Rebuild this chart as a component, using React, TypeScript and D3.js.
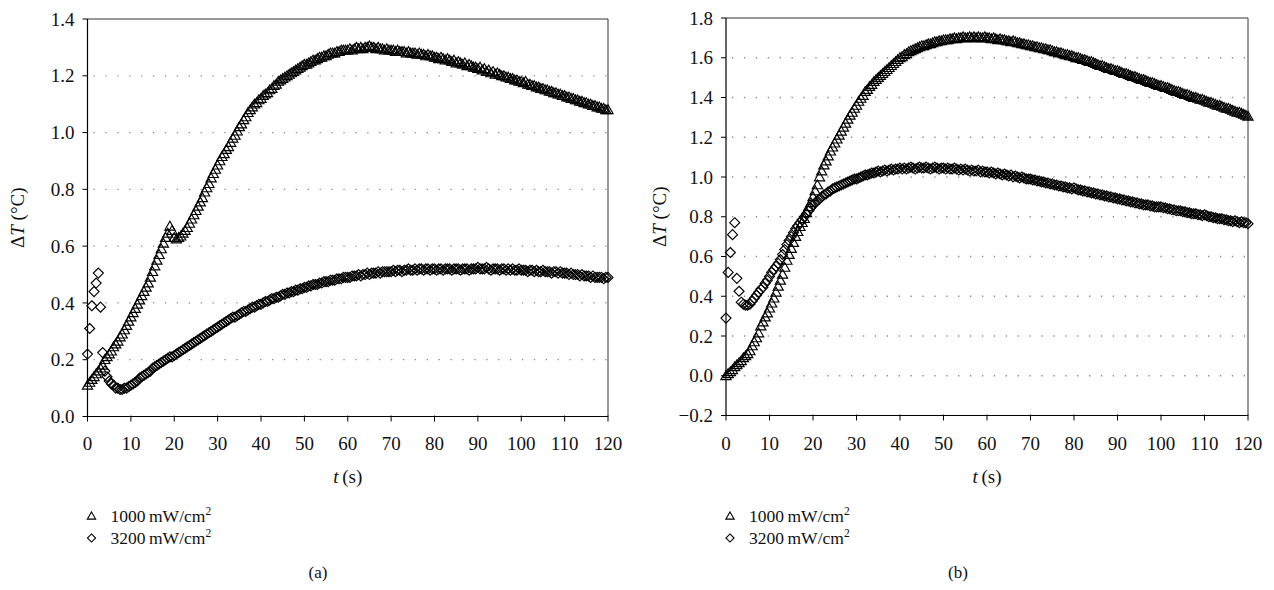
import { useEffect, useRef } from 'react';
import * as d3 from 'd3';

// sampling interval of the logger, seconds
const SAMPLE_STEP = 0.5;

const xTicks = [0, 10, 20, 30, 40, 50, 60, 70, 80, 90, 100, 110, 120];
const yTicksA = [0, 0.2, 0.4, 0.6, 0.8, 1.0, 1.2, 1.4];
const yTicksB = [-0.2, 0, 0.2, 0.4, 0.6, 0.8, 1.0, 1.2, 1.4, 1.6, 1.8];
const seriesNames = ['1000\u2009mW/cm', '3200\u2009mW/cm'];
const panelNames = ['(a)', '(b)'];

// panel (a), 1000 mW/cm2 — one row = 10 s
const a1000 = [
  0.11, 0.12, 0.13, 0.14, 0.15, 0.16, 0.17, 0.18, 0.20, 0.21, 0.22, 0.23, 0.245, 0.255, 0.265, 0.28, 0.29, 0.305, 0.32, 0.335,
  0.35, 0.365, 0.38, 0.395, 0.41, 0.425, 0.44, 0.455, 0.47, 0.49, 0.51, 0.53, 0.55, 0.57, 0.59, 0.61, 0.63, 0.645, 0.67, 0.655,
  0.63, 0.625, 0.63, 0.635, 0.645, 0.655, 0.665, 0.68, 0.695, 0.71, 0.725, 0.74, 0.755, 0.77, 0.79, 0.805, 0.82, 0.84, 0.855, 0.87,
  0.885, 0.9, 0.915, 0.925, 0.94, 0.95, 0.965, 0.98, 0.99, 1.005, 1.02, 1.03, 1.045, 1.055, 1.07, 1.08, 1.09, 1.10, 1.105, 1.115,
  1.12, 1.13, 1.135, 1.14, 1.15, 1.155, 1.165, 1.17, 1.18, 1.185, 1.19, 1.195, 1.20, 1.205, 1.21, 1.215, 1.22, 1.225, 1.23, 1.235,
  1.24, 1.24, 1.245, 1.25, 1.255, 1.255, 1.26, 1.265, 1.265, 1.27, 1.27, 1.275, 1.28, 1.28, 1.28, 1.285, 1.285, 1.29, 1.29, 1.29,
  1.29, 1.295, 1.29, 1.295, 1.30, 1.295, 1.30, 1.295, 1.30, 1.30, 1.305, 1.30, 1.30, 1.295, 1.30, 1.295, 1.295, 1.29, 1.295, 1.29,
  1.29, 1.29, 1.285, 1.29, 1.285, 1.285, 1.285, 1.28, 1.285, 1.28, 1.28, 1.28, 1.275, 1.28, 1.275, 1.275, 1.27, 1.275, 1.27, 1.27,
  1.265, 1.265, 1.26, 1.265, 1.26, 1.255, 1.26, 1.255, 1.25, 1.255, 1.245, 1.25, 1.245, 1.24, 1.245, 1.235, 1.24, 1.235, 1.23, 1.23,
  1.225, 1.23, 1.22, 1.225, 1.215, 1.22, 1.21, 1.215, 1.205, 1.21, 1.205, 1.20, 1.20, 1.195, 1.195, 1.19, 1.19, 1.185, 1.185, 1.18,
  1.18, 1.175, 1.18, 1.17, 1.17, 1.165, 1.165, 1.16, 1.16, 1.155, 1.155, 1.15, 1.15, 1.145, 1.145, 1.14, 1.14, 1.135, 1.135, 1.13,
  1.13, 1.125, 1.125, 1.12, 1.12, 1.115, 1.115, 1.11, 1.11, 1.105, 1.105, 1.10, 1.10, 1.095, 1.095, 1.09, 1.09, 1.085, 1.085, 1.08,
  1.08,
];

// panel (a), 3200 mW/cm2
const a3200 = [
  0.22, 0.31, 0.39, 0.44, 0.47, 0.505, 0.385, 0.225, 0.16, 0.14, 0.125, 0.115, 0.11, 0.10, 0.10, 0.095, 0.095, 0.10, 0.10, 0.105,
  0.11, 0.115, 0.12, 0.125, 0.135, 0.14, 0.145, 0.15, 0.155, 0.16, 0.17, 0.175, 0.18, 0.185, 0.19, 0.195, 0.20, 0.205, 0.21, 0.21,
  0.215, 0.22, 0.225, 0.23, 0.235, 0.24, 0.245, 0.25, 0.255, 0.26, 0.265, 0.27, 0.275, 0.28, 0.285, 0.29, 0.295, 0.30, 0.305, 0.31,
  0.315, 0.32, 0.325, 0.33, 0.335, 0.34, 0.345, 0.35, 0.35, 0.355, 0.36, 0.365, 0.37, 0.37, 0.375, 0.38, 0.385, 0.385, 0.39, 0.395,
  0.395, 0.40, 0.405, 0.405, 0.41, 0.415, 0.415, 0.42, 0.42, 0.425, 0.43, 0.43, 0.435, 0.435, 0.44, 0.44, 0.445, 0.445, 0.45, 0.45,
  0.455, 0.455, 0.46, 0.46, 0.465, 0.465, 0.465, 0.47, 0.47, 0.475, 0.475, 0.475, 0.48, 0.48, 0.48, 0.485, 0.485, 0.485, 0.49, 0.49,
  0.49, 0.49, 0.495, 0.495, 0.495, 0.50, 0.495, 0.50, 0.50, 0.505, 0.50, 0.505, 0.505, 0.505, 0.51, 0.505, 0.51, 0.51, 0.51, 0.51,
  0.51, 0.515, 0.51, 0.515, 0.515, 0.51, 0.515, 0.515, 0.52, 0.515, 0.515, 0.52, 0.515, 0.52, 0.52, 0.515, 0.52, 0.52, 0.515, 0.52,
  0.52, 0.515, 0.52, 0.52, 0.515, 0.52, 0.52, 0.52, 0.515, 0.52, 0.52, 0.52, 0.515, 0.52, 0.52, 0.52, 0.515, 0.52, 0.52, 0.52,
  0.525, 0.52, 0.52, 0.52, 0.525, 0.52, 0.515, 0.52, 0.52, 0.52, 0.515, 0.52, 0.52, 0.515, 0.52, 0.515, 0.52, 0.515, 0.515, 0.52,
  0.515, 0.515, 0.515, 0.51, 0.515, 0.515, 0.51, 0.515, 0.51, 0.51, 0.515, 0.51, 0.51, 0.51, 0.505, 0.51, 0.51, 0.505, 0.51, 0.505,
  0.505, 0.505, 0.50, 0.505, 0.50, 0.50, 0.50, 0.495, 0.50, 0.495, 0.495, 0.495, 0.49, 0.495, 0.49, 0.49, 0.49, 0.49, 0.485, 0.49,
  0.49,
];

// panel (b), 1000 mW/cm2
const b1000 = [
  0.0, 0.01, 0.02, 0.03, 0.045, 0.055, 0.065, 0.075, 0.09, 0.10, 0.11, 0.125, 0.15, 0.17, 0.19, 0.215, 0.25, 0.27, 0.295, 0.315,
  0.34, 0.365, 0.39, 0.42, 0.45, 0.48, 0.51, 0.545, 0.58, 0.61, 0.64, 0.67, 0.70, 0.725, 0.75, 0.77, 0.79, 0.82, 0.85, 0.87,
  0.90, 0.93, 0.96, 1.00, 1.03, 1.06, 1.08, 1.105, 1.13, 1.15, 1.17, 1.19, 1.21, 1.23, 1.25, 1.27, 1.29, 1.31, 1.325, 1.345,
  1.36, 1.38, 1.395, 1.41, 1.43, 1.44, 1.455, 1.465, 1.48, 1.49, 1.50, 1.51, 1.52, 1.53, 1.54, 1.55, 1.56, 1.57, 1.58, 1.59,
  1.60, 1.605, 1.615, 1.62, 1.63, 1.635, 1.64, 1.645, 1.65, 1.655, 1.66, 1.66, 1.665, 1.67, 1.67, 1.675, 1.68, 1.68, 1.685, 1.685,
  1.69, 1.69, 1.69, 1.695, 1.695, 1.70, 1.695, 1.70, 1.70, 1.705, 1.70, 1.70, 1.705, 1.70, 1.705, 1.70, 1.705, 1.70, 1.70, 1.705,
  1.70, 1.70, 1.695, 1.70, 1.695, 1.69, 1.695, 1.69, 1.69, 1.685, 1.685, 1.68, 1.685, 1.68, 1.675, 1.675, 1.67, 1.67, 1.665, 1.665,
  1.66, 1.66, 1.655, 1.655, 1.65, 1.65, 1.645, 1.645, 1.64, 1.64, 1.635, 1.63, 1.63, 1.625, 1.625, 1.62, 1.615, 1.615, 1.61, 1.61,
  1.605, 1.60, 1.60, 1.595, 1.59, 1.59, 1.585, 1.58, 1.58, 1.575, 1.57, 1.565, 1.56, 1.56, 1.555, 1.55, 1.545, 1.545, 1.54, 1.535,
  1.535, 1.53, 1.525, 1.52, 1.52, 1.515, 1.51, 1.505, 1.505, 1.50, 1.495, 1.49, 1.49, 1.485, 1.48, 1.475, 1.475, 1.47, 1.465, 1.46,
  1.46, 1.455, 1.45, 1.45, 1.445, 1.44, 1.435, 1.43, 1.43, 1.425, 1.42, 1.415, 1.415, 1.41, 1.405, 1.40, 1.40, 1.395, 1.39, 1.39,
  1.385, 1.38, 1.375, 1.375, 1.37, 1.365, 1.36, 1.36, 1.355, 1.35, 1.345, 1.345, 1.34, 1.335, 1.33, 1.325, 1.325, 1.32, 1.315, 1.31,
  1.305,
];

// panel (b), 3200 mW/cm2
const b3200 = [
  0.29, 0.52, 0.62, 0.71, 0.77, 0.49, 0.425, 0.37, 0.36, 0.355, 0.355, 0.36, 0.375, 0.39, 0.405, 0.42, 0.435, 0.445, 0.465, 0.48,
  0.50, 0.52, 0.535, 0.55, 0.565, 0.585, 0.61, 0.635, 0.66, 0.68, 0.70, 0.72, 0.74, 0.755, 0.77, 0.785, 0.80, 0.815, 0.83, 0.845,
  0.86, 0.87, 0.88, 0.89, 0.90, 0.91, 0.915, 0.925, 0.93, 0.94, 0.945, 0.95, 0.955, 0.96, 0.965, 0.97, 0.975, 0.98, 0.985, 0.99,
  0.99, 0.995, 1.0, 1.005, 1.01, 1.01, 1.015, 1.02, 1.02, 1.025, 1.03, 1.025, 1.03, 1.035, 1.03, 1.035, 1.04, 1.035, 1.04, 1.04,
  1.045, 1.04, 1.045, 1.04, 1.045, 1.05, 1.045, 1.04, 1.045, 1.05, 1.045, 1.045, 1.05, 1.045, 1.04, 1.045, 1.05, 1.045, 1.04, 1.045,
  1.045, 1.04, 1.045, 1.04, 1.04, 1.045, 1.04, 1.035, 1.04, 1.035, 1.04, 1.035, 1.03, 1.035, 1.03, 1.03, 1.035, 1.025, 1.03, 1.025,
  1.025, 1.02, 1.025, 1.02, 1.015, 1.02, 1.015, 1.01, 1.015, 1.01, 1.005, 1.01, 1.0, 1.005, 1.0, 0.995, 1.0, 0.995, 0.99, 0.99,
  0.99, 0.985, 0.985, 0.98, 0.98, 0.975, 0.975, 0.97, 0.97, 0.965, 0.965, 0.96, 0.96, 0.955, 0.955, 0.95, 0.95, 0.945, 0.945, 0.94,
  0.945, 0.94, 0.935, 0.935, 0.93, 0.93, 0.925, 0.925, 0.92, 0.92, 0.915, 0.915, 0.91, 0.91, 0.905, 0.905, 0.90, 0.90, 0.895, 0.895,
  0.89, 0.89, 0.885, 0.885, 0.88, 0.88, 0.875, 0.875, 0.87, 0.87, 0.865, 0.865, 0.86, 0.86, 0.86, 0.855, 0.855, 0.85, 0.85, 0.85,
  0.85, 0.845, 0.845, 0.84, 0.84, 0.835, 0.835, 0.83, 0.83, 0.83, 0.825, 0.825, 0.82, 0.82, 0.815, 0.815, 0.815, 0.81, 0.81, 0.805,
  0.81, 0.805, 0.80, 0.80, 0.795, 0.795, 0.79, 0.79, 0.79, 0.785, 0.785, 0.78, 0.78, 0.775, 0.78, 0.775, 0.77, 0.775, 0.77, 0.77,
  0.765,
];

const FONT = '"Liberation Serif", "DejaVu Serif", serif';
const TRIANGLE = 'M0,-5L5.1,3.8L-5.1,3.8Z';
const DIAMOND = 'M0,-5L5,0L0,5L-5,0Z';

type Panel = {
  left: number; right: number; top: number; bottom: number;
  yDomain: [number, number]; yTicks: number[];
  series: number[][]; name: string; titleX: number; nameX: number;
};

const panels: Panel[] = [
  { left: 87.5, right: 608, top: 19, bottom: 416.5, yDomain: [0, 1.4], yTicks: yTicksA,
    series: [a1000, a3200], name: panelNames[0], titleX: 24, nameX: 318 },
  { left: 726, right: 1248, top: 18, bottom: 415.5, yDomain: [-0.2, 1.8], yTicks: yTicksB,
    series: [b1000, b3200], name: panelNames[1], titleX: 666, nameX: 958 },
];

export default function App() {
  const svgRef = useRef<SVGSVGElement>(null);

  useEffect(() => {
    if (!svgRef.current) return;
    const svg = d3.select(svgRef.current);
    svg.selectAll('*').remove();
    const fmt = d3.format('.1f');

    panels.forEach(p => {
      const x = d3.scaleLinear().domain([0, 120]).range([p.left, p.right]);
      const y = d3.scaleLinear().domain(p.yDomain).range([p.bottom, p.top]);
      const g = svg.append('g').attr('font-family', FONT);

      // dotted grid (skip the lowest and top tick)
      g.selectAll('line.grid')
        .data(p.yTicks.slice(1, -1))
        .join('line')
        .attr('x1', p.left + 6).attr('x2', p.right)
        .attr('y1', d => y(d)).attr('y2', d => y(d))
        .attr('stroke', '#8a8a8a')
        .attr('stroke-width', 1.3)
        .attr('stroke-dasharray', '1.3,10.6');

      // frame
      g.append('line').attr('x1', p.left).attr('x2', p.right).attr('y1', p.top).attr('y2', p.top)
        .attr('stroke', '#333').attr('stroke-width', 1);
      g.append('line').attr('x1', p.right).attr('x2', p.right).attr('y1', p.top).attr('y2', p.bottom)
        .attr('stroke', '#333').attr('stroke-width', 1);
      g.append('line').attr('x1', p.left).attr('x2', p.left).attr('y1', p.top).attr('y2', p.bottom)
        .attr('stroke', '#000').attr('stroke-width', 1.2);
      g.append('line').attr('x1', p.left).attr('x2', p.right).attr('y1', p.bottom).attr('y2', p.bottom)
        .attr('stroke', '#000').attr('stroke-width', 1.2);

      // y ticks + labels
      g.selectAll('line.ytick').data(p.yTicks).join('line')
        .attr('x1', p.left - 5).attr('x2', p.left)
        .attr('y1', d => y(d)).attr('y2', d => y(d))
        .attr('stroke', '#000').attr('stroke-width', 1);
      g.selectAll('text.ylab').data(p.yTicks).join('text')
        .attr('x', p.left - 13).attr('y', d => y(d)).attr('dy', '0.35em')
        .attr('text-anchor', 'end').attr('font-size', 19).attr('fill', '#111')
        .text(d => fmt(d));

      // x ticks + labels
      g.selectAll('line.xtick').data(xTicks).join('line')
        .attr('x1', d => x(d)).attr('x2', d => x(d))
        .attr('y1', p.bottom - 1).attr('y2', p.bottom + 5)
        .attr('stroke', '#000').attr('stroke-width', 1);
      g.selectAll('text.xlab').data(xTicks).join('text')
        .attr('x', d => x(d)).attr('y', 450)
        .attr('text-anchor', 'middle').attr('font-size', 19).attr('fill', '#111')
        .text(d => String(d));

      // axis titles
      const xt = g.append('text').attr('x', (p.left + p.right) / 2).attr('y', 483)
        .attr('text-anchor', 'middle').attr('font-size', 19).attr('fill', '#111');
      xt.append('tspan').attr('font-style', 'italic').text('t');
      xt.append('tspan').text('\u2009(s)');

      const yt = g.append('text')
        .attr('transform', `translate(${p.titleX},${(p.top + p.bottom) / 2}) rotate(-90)`)
        .attr('text-anchor', 'middle').attr('font-size', 19).attr('fill', '#111');
      yt.append('tspan').text('\u0394');
      yt.append('tspan').attr('font-style', 'italic').text('T');
      yt.append('tspan').text(' (\u00b0C)');

      // markers
      const shapes = [TRIANGLE, DIAMOND];
      p.series.forEach((vals, si) => {
        g.append('g').selectAll('path')
          .data(vals)
          .join('path')
          .attr('d', shapes[si])
          .attr('transform', (d, i) => `translate(${x(i * SAMPLE_STEP)},${y(d)})`)
          .attr('fill', 'none')
          .attr('stroke', '#000')
          .attr('stroke-width', 1.15);
      });

      // legend
      seriesNames.forEach((name, si) => {
        const ly = 516 + si * 22;
        g.append('path').attr('d', shapes[si])
          .attr('transform', `translate(${p.left + 4},${ly}) scale(0.82)`)
          .attr('fill', 'none').attr('stroke', '#000').attr('stroke-width', 1.3);
        const t = g.append('text').attr('x', p.left + 23).attr('y', ly + 6)
          .attr('font-size', 17.5).attr('fill', '#111');
        t.append('tspan').text(name);
        t.append('tspan').attr('font-size', 11.5).attr('dy', -7.5).text('2');
      });

      // panel label
      g.append('text').attr('x', p.nameX).attr('y', 578)
        .attr('text-anchor', 'middle').attr('font-size', 17).attr('fill', '#111')
        .text(p.name);
    });
  }, []);

  return (
    <div style={{ position: 'absolute', left: 0, top: 0 }}>
      <svg ref={svgRef} width={1274} height={590} style={{ background: '#fff', display: 'block' }} />
    </div>
  );
}
